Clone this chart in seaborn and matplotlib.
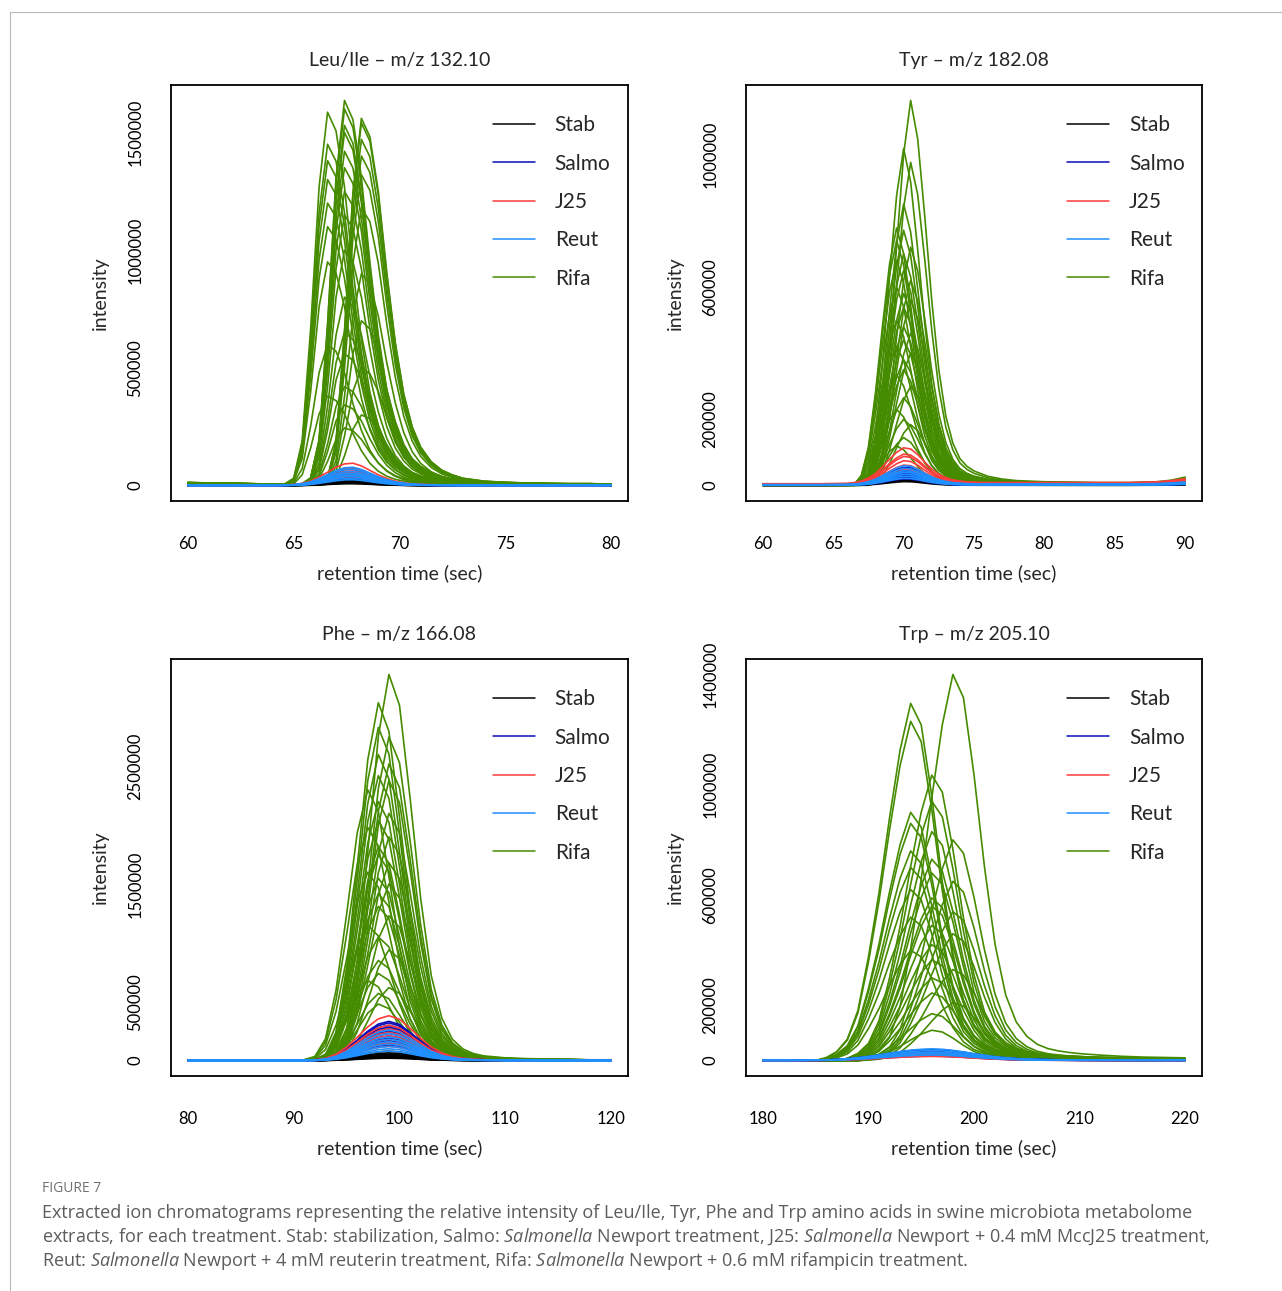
import numpy as np
import pandas as pd
import matplotlib
matplotlib.use('Agg')
import matplotlib.pyplot as plt
from matplotlib.lines import Line2D
import seaborn as sns

# ---------------- data ----------------
# every trace = peak height x one of the peak shapes of its panel
# shapes a/b/c = Rifa peaks with early/mid/late apex, w = broad low peaks

leu_time = [60, 61, 62, 63, 64, 64.6, 65.0, 65.4, 65.8, 66.2, 66.6, 67.0, 67.4, 67.8, 68.2, 68.6,
            69.0, 69.4, 69.8, 70.2, 70.6, 71.0, 71.5, 72.0, 72.5, 73, 74, 75, 76, 77, 78, 79, 80]
leu_shape_a = [0.008, 0.007, 0.006, 0.005, 0.004, 0.005, 0.02, 0.12, 0.42, 0.8, 1.0, 0.95, 0.8, 0.58, 0.39, 0.25,
               0.16, 0.105, 0.07, 0.05, 0.035, 0.026, 0.019, 0.014, 0.011, 0.009, 0.007, 0.006, 0.006, 0.005, 0.005, 0.005, 0.004]
leu_shape_b = [0.008, 0.007, 0.006, 0.005, 0.004, 0.004, 0.004, 0.005, 0.02, 0.12, 0.42, 0.8, 1.0, 0.95, 0.8, 0.58,
               0.39, 0.25, 0.16, 0.105, 0.07, 0.05, 0.034, 0.024, 0.017, 0.013, 0.009, 0.007, 0.006, 0.005, 0.005, 0.005, 0.004]
leu_shape_c = [0.008, 0.007, 0.006, 0.005, 0.004, 0.004, 0.004, 0.004, 0.004, 0.005, 0.02, 0.12, 0.42, 0.8, 1.0, 0.95,
               0.8, 0.58, 0.39, 0.25, 0.16, 0.105, 0.065, 0.042, 0.029, 0.02, 0.012, 0.009, 0.007, 0.006, 0.005, 0.005, 0.004]
leu_shape_w = [0.02, 0.02, 0.02, 0.02, 0.02, 0.03, 0.05, 0.1, 0.2, 0.38, 0.6, 0.82, 0.97, 1.0, 0.88, 0.68,
               0.48, 0.32, 0.2, 0.13, 0.08, 0.055, 0.04, 0.03, 0.025, 0.02, 0.02, 0.02, 0.02, 0.02, 0.02, 0.02, 0.02]
leu_rifa_height = [1586000, 1636000, 1560000, 1600000, 1540000, 1530000, 1500000, 1470000, 1450000, 1420000,
                   1400000, 1380000, 1350000, 1320000, 1300000, 1250000, 1200000, 1180000, 1150000, 1100000,
                   1000000, 950000, 900000, 800000, 700000, 652000, 600000, 560000, 500000, 420000,
                   380000, 343000, 300000, 245000]
leu_rifa_shape = 'abcbcbbcab' 'cabcabacba' 'bacbcbabcb' 'abcb'
leu_stab = [30000, 25000, 20000, 18000, 15000, 12000, 10000, 8000]
leu_salmo = [70000, 60000, 55000, 50000, 45000, 40000, 35000, 30000]
leu_j25 = [95000, 75000, 62000, 55000, 45000, 38000]
leu_reut = [78000, 70000, 60000, 52000, 46000, 40000, 32000, 25000]

tyr_time = [60, 62, 64, 66, 66.5, 67, 67.5, 68, 68.5, 69, 69.5, 70, 70.5, 71, 71.5, 72,
            72.5, 73, 73.5, 74, 74.5, 75, 76, 77, 78, 80, 82, 84, 86, 88, 89, 90]
tyr_shape_a = [0.004, 0.004, 0.004, 0.004, 0.005, 0.04, 0.15, 0.36, 0.62, 0.86, 1.0, 0.9, 0.7, 0.48, 0.3, 0.18,
               0.11, 0.07, 0.05, 0.036, 0.028, 0.022, 0.016, 0.013, 0.011, 0.009, 0.008, 0.008, 0.008, 0.01, 0.014, 0.022]
tyr_shape_b = [0.004, 0.004, 0.004, 0.004, 0.004, 0.005, 0.04, 0.15, 0.36, 0.62, 0.86, 1.0, 0.9, 0.7, 0.48, 0.3,
               0.18, 0.11, 0.07, 0.05, 0.036, 0.028, 0.019, 0.014, 0.012, 0.01, 0.009, 0.008, 0.008, 0.01, 0.014, 0.022]
tyr_shape_c = [0.004, 0.004, 0.004, 0.004, 0.004, 0.004, 0.005, 0.04, 0.15, 0.36, 0.62, 0.86, 1.0, 0.9, 0.7, 0.48,
               0.3, 0.18, 0.11, 0.07, 0.05, 0.038, 0.024, 0.017, 0.013, 0.01, 0.009, 0.008, 0.008, 0.01, 0.014, 0.022]
tyr_shape_w = [0.05, 0.05, 0.05, 0.06, 0.08, 0.12, 0.2, 0.32, 0.5, 0.7, 0.88, 1.0, 0.97, 0.82, 0.62, 0.44,
               0.3, 0.21, 0.15, 0.12, 0.1, 0.09, 0.08, 0.08, 0.08, 0.08, 0.08, 0.08, 0.08, 0.1, 0.13, 0.18]
tyr_rifa_height = [1163000, 1018000, 976000, 850000, 778000, 771000, 740000, 720000, 700000, 680000,
                   650000, 620000, 600000, 580000, 560000, 540000, 500000, 480000, 460000, 440000,
                   420000, 400000, 380000, 350000, 334000, 300000, 265000, 230000, 200000, 184000,
                   145000, 120000]
tyr_rifa_shape = 'cbcbabacba' 'bcabcbabcb' 'acbbacbabc' 'ba'
tyr_stab = [35000, 28000, 22000, 16000, 12000]
tyr_salmo = [55000, 48000, 42000, 36000, 30000, 25000, 20000]
tyr_j25 = [114000, 95000, 88000, 75000, 62000, 50000]
tyr_reut = [60000, 52000, 45000, 40000, 34000, 28000, 22000]

phe_time = [80, 82, 84, 86, 88, 90, 91, 92, 93, 94, 95, 96, 97, 98, 99, 100, 101, 102, 103, 104,
            105, 106, 107, 108, 110, 112, 114, 116, 118, 120]
phe_shape_a = [0, 0, 0, 0, 0, 0.001, 0.003, 0.015, 0.08, 0.26, 0.54, 0.84, 1.0, 0.92, 0.68, 0.42, 0.22, 0.11, 0.055, 0.03,
               0.018, 0.012, 0.009, 0.007, 0.005, 0.004, 0.003, 0.003, 0.002, 0.002]
phe_shape_b = [0, 0, 0, 0, 0, 0.001, 0.002, 0.004, 0.015, 0.08, 0.26, 0.54, 0.84, 1.0, 0.92, 0.68, 0.42, 0.22, 0.11, 0.055,
               0.03, 0.018, 0.012, 0.009, 0.006, 0.004, 0.003, 0.003, 0.002, 0.002]
phe_shape_c = [0, 0, 0, 0, 0, 0.001, 0.001, 0.002, 0.004, 0.015, 0.08, 0.26, 0.54, 0.84, 1.0, 0.92, 0.68, 0.42, 0.22, 0.11,
               0.055, 0.03, 0.018, 0.012, 0.007, 0.005, 0.004, 0.003, 0.002, 0.002]
phe_shape_w = [0, 0, 0, 0, 0, 0.002, 0.005, 0.015, 0.05, 0.14, 0.3, 0.52, 0.75, 0.93, 1.0, 0.92, 0.72, 0.5, 0.3, 0.17,
               0.09, 0.05, 0.03, 0.02, 0.01, 0.007, 0.005, 0.004, 0.003, 0.003]
phe_rifa_height = [3280000, 3040000, 2830000, 2750000, 2600000, 2520000, 2420000, 2380000, 2300000, 2200000,
                   2100000, 2040000, 1980000, 1900000, 1820000, 1750000, 1680000, 1600000, 1550000, 1500000,
                   1420000, 1310000, 1230000, 1150000, 1050000, 940000, 850000, 740000, 680000, 620000,
                   570000, 480000]
phe_rifa_shape = 'cbbcbcbcab' 'cbacbbcabc' 'bbcabcbbac' 'bb'
phe_stab = [80000, 65000, 55000, 45000, 38000, 30000, 25000, 20000]
phe_salmo = [333000, 320000, 300000, 285000, 270000, 250000, 230000, 210000, 190000, 170000, 150000, 130000]
phe_j25 = [381000, 300000, 270000, 240000, 210000, 180000, 150000, 120000]
phe_reut = [260000, 230000, 200000, 180000, 160000, 140000, 120000, 100000, 80000]

trp_time = [180, 182, 184, 185, 186, 187, 188, 189, 190, 191, 192, 193, 194, 195, 196, 197, 198,
            199, 200, 201, 202, 203, 204, 205, 206, 207, 208, 209, 210, 212, 214, 216, 218, 220]
trp_shape_a = [0, 0, 0, 0, 0.008, 0.025, 0.06, 0.14, 0.29, 0.47, 0.68, 0.87, 1.0, 0.94, 0.74, 0.5, 0.3,
               0.17, 0.1, 0.063, 0.042, 0.031, 0.025, 0.021, 0.018, 0.016, 0.014, 0.012, 0.011, 0.009, 0.008, 0.007, 0.006, 0.005]
trp_shape_b = [0, 0, 0, 0, 0, 0, 0.008, 0.025, 0.06, 0.14, 0.29, 0.47, 0.68, 0.87, 1.0, 0.94, 0.74,
               0.5, 0.3, 0.17, 0.1, 0.063, 0.042, 0.031, 0.025, 0.021, 0.018, 0.016, 0.014, 0.011, 0.009, 0.008, 0.007, 0.006]
trp_shape_c = [0, 0, 0, 0, 0, 0, 0, 0, 0.008, 0.025, 0.06, 0.14, 0.29, 0.47, 0.68, 0.87, 1.0,
               0.94, 0.74, 0.5, 0.3, 0.17, 0.1, 0.063, 0.042, 0.031, 0.025, 0.021, 0.018, 0.014, 0.011, 0.009, 0.008, 0.007]
trp_shape_w = [0.02, 0.02, 0.03, 0.04, 0.06, 0.1, 0.16, 0.25, 0.36, 0.5, 0.64, 0.78, 0.9, 0.97, 1.0, 0.97, 0.88,
               0.75, 0.6, 0.46, 0.34, 0.25, 0.18, 0.13, 0.1, 0.08, 0.07, 0.06, 0.05, 0.04, 0.035, 0.03, 0.03, 0.03]
trp_rifa_height = [1400000, 1295000, 1230000, 1035000, 940000, 900000, 860000, 830000, 800000, 760000,
                   730000, 700000, 680000, 650000, 620000, 590000, 560000, 540000, 520000, 490000,
                   460000, 420000, 400000, 365000, 330000, 300000, 245000, 210000, 170000, 110000]
trp_rifa_shape = 'caabbaabca' 'babcabbcab' 'cbabcbbcbb'
trp_stab = [40000, 35000, 30000, 25000, 20000]
trp_salmo = [38000, 32000, 28000, 24000, 20000, 16000]
trp_j25 = [30000, 25000, 20000, 15000]
trp_reut = [42000, 36000, 30000, 25000, 20000]

legend_order = ['Stab', 'Salmo', 'J25', 'Reut', 'Rifa']
draw_order = ['Rifa', 'Stab', 'Salmo', 'J25', 'Reut']
palette = {'Stab': '#000000', 'Salmo': '#0c0cb8', 'J25': '#ff3c3c', 'Reut': '#1e90ff', 'Rifa': '#458b00'}


def chromatograms(time, shapes, rifa_height, rifa_shape, small):
    frames = []
    for i, (h, s) in enumerate(zip(rifa_height, rifa_shape)):
        frames.append(pd.DataFrame({'time': time, 'intensity': np.array(shapes[s]) * h,
                                    'group': 'Rifa', 'sample': f'Rifa{i}'}))
    for grp, heights in small.items():
        for i, h in enumerate(heights):
            frames.append(pd.DataFrame({'time': time, 'intensity': np.array(shapes['w']) * h,
                                        'group': grp, 'sample': f'{grp}{i}'}))
    return pd.concat(frames, ignore_index=True)


panels = [
    dict(title='Leu/Ile – m/z 132.10', rect=(171, 85, 628, 501),
         df=chromatograms(leu_time, dict(a=leu_shape_a, b=leu_shape_b, c=leu_shape_c, w=leu_shape_w),
                          leu_rifa_height, leu_rifa_shape,
                          dict(Stab=leu_stab, Salmo=leu_salmo, J25=leu_j25, Reut=leu_reut)),
         xticks=[60, 65, 70, 75, 80], yticks=[0, 500000, 1000000, 1500000],
         ylabels=[0, 500000, 1000000, 1500000]),
    dict(title='Tyr – m/z 182.08', rect=(746, 85, 1202, 501),
         df=chromatograms(tyr_time, dict(a=tyr_shape_a, b=tyr_shape_b, c=tyr_shape_c, w=tyr_shape_w),
                          tyr_rifa_height, tyr_rifa_shape,
                          dict(Stab=tyr_stab, Salmo=tyr_salmo, J25=tyr_j25, Reut=tyr_reut)),
         xticks=[60, 65, 70, 75, 80, 85, 90], yticks=[0, 200000, 400000, 600000, 800000, 1000000],
         ylabels=[0, 200000, 600000, 1000000]),
    dict(title='Phe – m/z 166.08', rect=(171, 659, 628, 1076),
         df=chromatograms(phe_time, dict(a=phe_shape_a, b=phe_shape_b, c=phe_shape_c, w=phe_shape_w),
                          phe_rifa_height, phe_rifa_shape,
                          dict(Stab=phe_stab, Salmo=phe_salmo, J25=phe_j25, Reut=phe_reut)),
         xticks=[80, 90, 100, 110, 120],
         yticks=[0, 500000, 1000000, 1500000, 2000000, 2500000, 3000000],
         ylabels=[0, 500000, 1500000, 2500000]),
    dict(title='Trp – m/z 205.10', rect=(746, 659, 1202, 1076),
         df=chromatograms(trp_time, dict(a=trp_shape_a, b=trp_shape_b, c=trp_shape_c, w=trp_shape_w),
                          trp_rifa_height, trp_rifa_shape,
                          dict(Stab=trp_stab, Salmo=trp_salmo, J25=trp_j25, Reut=trp_reut)),
         xticks=[180, 190, 200, 210, 220],
         yticks=[0, 200000, 400000, 600000, 800000, 1000000, 1200000, 1400000],
         ylabels=[0, 200000, 600000, 1000000, 1400000]),
]

# ---------------- figure ----------------
sns.set_style('white')
plt.rcParams['font.family'] = ['Lato', 'DejaVu Sans']
plt.rcParams['mathtext.fontset'] = 'custom'
plt.rcParams['mathtext.it'] = 'Open Sans:italic'
plt.rcParams['mathtext.rm'] = 'Open Sans'

W, H = 1282, 1291
fig = plt.figure(figsize=(W / 100, H / 100), dpi=100)

for p in panels:
    x0, y0, x1, y1 = p['rect']
    ax = fig.add_axes([x0 / W, 1 - y1 / H, (x1 - x0) / W, (y1 - y0) / H])
    df = p['df']
    sns.lineplot(data=df, x='time', y='intensity', hue='group', hue_order=draw_order,
                 units='sample', estimator=None, palette=palette, lw=1.2, legend=False, ax=ax)

    # R style 4% padding
    tmin, tmax = df['time'].min(), df['time'].max()
    ymax = df['intensity'].max()
    ax.set_xlim(tmin - 0.04 * (tmax - tmin), tmax + 0.04 * (tmax - tmin))
    ax.set_ylim(-0.04 * ymax, 1.04 * ymax)

    ax.set_xticks(p['xticks'])
    ax.set_xticklabels([str(t) for t in p['xticks']])
    ax.set_yticks(p['yticks'])
    ax.set_yticklabels([str(v) if v in p['ylabels'] else '' for v in p['yticks']],
                       rotation=90, va='center')
    ax.tick_params(axis='both', direction='out', length=9, width=1.0, labelsize=12, colors='black')
    ax.tick_params(axis='x', pad=16)
    ax.tick_params(axis='y', pad=11)
    for sp in ax.spines.values():
        sp.set_visible(True)
        sp.set_linewidth(1.3)
        sp.set_color('black')

    ax.set_title(p['title'], fontsize=14, pad=14)
    ax.set_xlabel('retention time (sec)', fontsize=14)
    ax.set_ylabel('intensity', fontsize=14)
    ax.xaxis.set_label_coords(0.5, -0.152)
    ax.yaxis.set_label_coords(-0.136, 0.5)

    handles = [Line2D([], [], color=palette[g], lw=1.1) for g in legend_order]
    ax.legend(handles, legend_order, loc='upper left', bbox_to_anchor=(0.705, 0.927),
              frameon=False, fontsize=15, handlelength=2.0, handletextpad=0.95,
              labelspacing=0.88, borderpad=0, borderaxespad=0)

# page frame
fig.add_artist(Line2D([10 / W, 1], [1 - 12 / H, 1 - 12 / H], transform=fig.transFigure,
                      color='#b8b8b8', lw=0.8))
fig.add_artist(Line2D([10 / W, 10 / W], [0, 1 - 12 / H], transform=fig.transFigure,
                      color='#b8b8b8', lw=0.8))

# caption
cap = dict(fontsize=13, color='#5c5c5c', family='Open Sans', va='center', ha='left')
fig.text(42 / W, 1 - 1188 / H, 'FIGURE 7', fontsize=10, color='#707070', family='Open Sans',
         va='center', ha='left')
fig.text(42 / W, 1 - 1213 / H,
         'Extracted ion chromatograms representing the relative intensity of Leu/Ile, Tyr, Phe and Trp '
         'amino acids in swine microbiota metabolome', **cap)
fig.text(42 / W, 1 - 1237 / H,
         r'extracts, for each treatment. Stab: stabilization, Salmo: $\mathit{Salmonella}$ Newport treatment, '
         r'J25: $\mathit{Salmonella}$ Newport + 0.4 mM MccJ25 treatment,', **cap)
fig.text(42 / W, 1 - 1261 / H,
         r'Reut: $\mathit{Salmonella}$ Newport + 4 mM reuterin treatment, Rifa: $\mathit{Salmonella}$ '
         r'Newport + 0.6 mM rifampicin treatment.', **cap)

fig.savefig('out.png', dpi=100, facecolor='white')
